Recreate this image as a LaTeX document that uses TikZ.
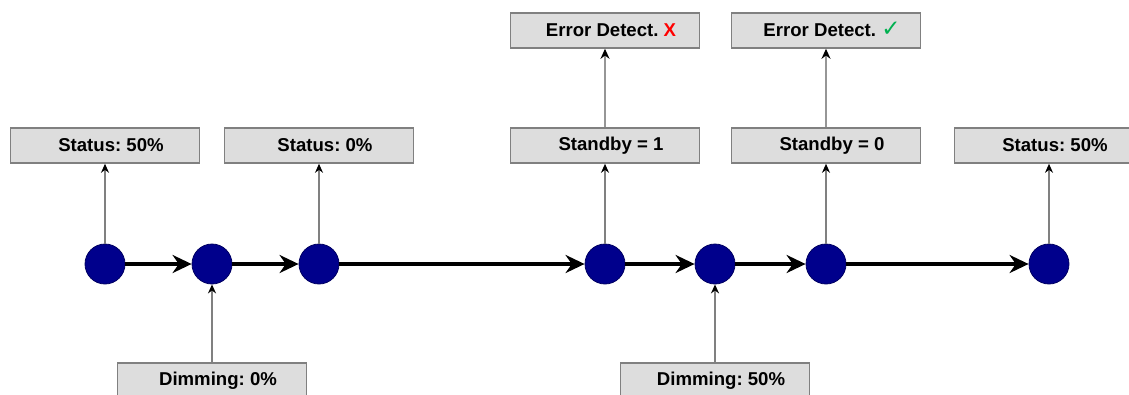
\documentclass[tikz,border=0pt]{standalone}
\usepackage{fontspec}
\setmainfont{Liberation Sans}
\newfontfamily\dejavu{DejaVu Sans}
\usetikzlibrary{arrows.meta}
\definecolor{nodeblue}{RGB}{0,0,140}
\definecolor{boxfill}{RGB}{221,221,221}
\definecolor{boxline}{RGB}{128,128,128}
\definecolor{linkgray}{RGB}{150,150,150}
\definecolor{okgreen}{RGB}{0,176,80}
\begin{document}
\frenchspacing
\begin{tikzpicture}[x=1pt,y=-1pt,
  dot/.style={circle,fill=nodeblue,draw=nodeblue!70!black,line width=0.8pt,minimum size=40pt,inner sep=0pt},
  lbl/.style={draw=boxline,fill=boxfill,line width=1.6pt,minimum width=189pt,minimum height=35pt,inner sep=0pt,font=\bfseries\fontsize{18.6}{20}\selectfont},
  flow/.style={line width=4pt,-{Stealth[length=19pt,width=18pt]}},
  link/.style={draw=boxline,line width=1.4pt,-{Stealth[length=9pt,width=8pt,black]}},
  biglink/.style={draw=linkgray,line width=2.4pt,-{Stealth[length=10pt,width=9pt,black]}},
]
\useasboundingbox (0,0) rectangle (1129,394);
\fill[white] (0,0) rectangle (1129,394);
% timeline nodes
\node[dot] (n1) at (105,264) {};
\node[dot] (n2) at (212,264) {};
\node[dot] (n3) at (319,264) {};
\node[dot] (n4) at (605,264) {};
\node[dot] (n5) at (715,264) {};
\node[dot] (n6) at (826,264) {};
\node[dot] (n7) at (1049,264) {};
% labels
\node[lbl] (s1) at (105,145.5) {\hspace*{12pt}Status: 50\%};
\node[lbl] (s2) at (319,145.5) {\hspace*{12pt}Status: 0\%};
\node[lbl] (sb1) at (605,145.5) {\hspace*{12pt}Standby = 1};
\node[lbl] (e1) at (605,30.5) {\hspace*{12pt}Error Detect. \textcolor{red}{X}};
\node[lbl] (sb0) at (826,145.5) {\hspace*{12pt}Standby = 0};
\node[lbl] (e2) at (826,30.5) {\hspace*{12pt}Error Detect. \smash{\dejavu\bfseries\fontsize{23}{23}\selectfont\textcolor{okgreen}{✓}}};
\node[lbl] (s3) at (1049,145.5) {\hspace*{12pt}Status: 50\%};
\node[lbl] (d1) at (212,380.5) {\hspace*{12pt}Dimming: 0\%};
\node[lbl] (d2) at (715,380.5) {\hspace*{12pt}Dimming: 50\%};
% flow
\draw[flow] (n1) -- (n2);
\draw[flow] (n2) -- (n3);
\draw[flow] (n3) -- (n4);
\draw[flow] (n4) -- (n5);
\draw[flow] (n5) -- (n6);
\draw[flow] (n6) -- (n7);
% links
\draw[link] (n1) -- (s1);
\draw[link] (n3) -- (s2);
\draw[link] (n4) -- (sb1);
\draw[biglink] (sb1) -- (e1);
\draw[link] (n6) -- (sb0);
\draw[biglink] (sb0) -- (e2);
\draw[link] (n7) -- (s3);
\draw[link] (d1) -- (n2);
\draw[link] (d2) -- (n5);
\end{tikzpicture}
\end{document}
